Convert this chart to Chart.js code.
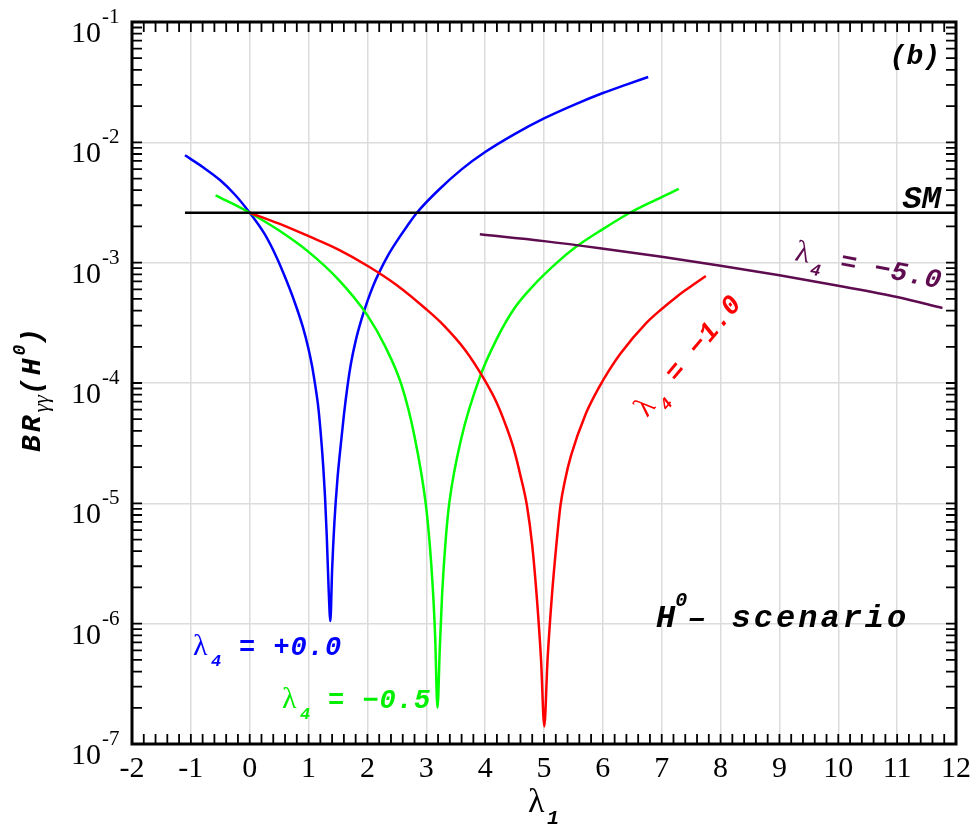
<!DOCTYPE html>
<html>
<head>
<meta charset="utf-8">
<script src="https://cdn.jsdelivr.net/npm/chart.js@4.4.0/dist/chart.umd.min.js"></script>
<style>
html,body{margin:0;padding:0;background:#fff;}
canvas{display:block;}
</style>
</head>
<body>
<canvas id="c" width="975" height="828"></canvas>
<script>
// ---------- data ----------
const xTicks = [-2,-1,0,1,2,3,4,5,6,7,8,9,10,11,12];
const yTickExponents = [-7,-6,-5,-4,-3,-2,-1];

const smX = [-1.1, 12];
const smY = [2.6e-3, 2.6e-3];

// lambda4 = +0.0 (blue)
const blueX = [-1.1,-0.8,-0.5,-0.25,0,0.25,0.46,0.6,0.75,0.9,1.0,1.06,1.12,1.16,1.2,1.25,1.28,1.31,1.34,1.37,
               1.40,1.44,1.49,1.55,1.6,1.66,1.72,1.8,1.9,2.0,2.1,2.2,2.35,2.5,2.67,2.84,3.2,3.6,4.0,4.5,5.0,5.5,6.0,6.4,6.77];
const blueY = [7.8e-3,6.24e-3,4.84e-3,3.67e-3,2.6e-3,1.74e-3,1.1e-3,7.59e-4,4.9e-4,2.95e-4,1.91e-4,1.38e-4,9.1e-5,6.6e-5,4.17e-5,2.0e-5,1.12e-5,5.2e-6,2.0e-6,1.05e-6,
               2.8e-6,7.1e-6,1.58e-5,3.16e-5,5.4e-5,9.3e-5,1.45e-4,2.24e-4,3.39e-4,4.79e-4,6.46e-4,8.3e-4,1.15e-3,1.51e-3,2.0e-3,2.6e-3,3.98e-3,5.96e-3,8.3e-3,1.17e-2,1.58e-2,2.04e-2,2.57e-2,3.02e-2,3.49e-2];

// lambda4 = -0.5 (green)
const greenX = [-0.58,-0.3,0,0.5,1.0,1.5,2.0,2.3,2.58,2.8,2.99,3.06,3.11,3.15,3.19,3.23,3.27,3.33,3.39,3.6,3.91,4.2,4.5,4.8,5.22,5.55,6.0,6.46,6.9,7.29];
const greenY = [3.62e-3,3.11e-3,2.6e-3,1.85e-3,1.23e-3,7.3e-4,3.65e-4,2.02e-4,9.6e-5,3.6e-5,1.0e-5,4.5e-6,2.0e-6,8.0e-7,2.0e-7,6.3e-7,1.8e-6,5.0e-6,1.0e-5,3.55e-5,1.12e-4,2.34e-4,4.2e-4,6.3e-4,1.0e-3,1.36e-3,1.9e-3,2.6e-3,3.33e-3,4.1e-3];

// lambda4 = -1.0 (red)
const redX = [0,0.5,1.0,1.5,2.02,2.5,3.0,3.3,3.66,3.98,4.2,4.35,4.48,4.6,4.71,4.8,4.88,4.95,5.005,5.06,5.13,5.2,5.28,5.36,5.46,5.7,5.93,6.1,6.3,6.74,7.0,7.25,7.4,7.75];
const redY = [2.6e-3,2.11e-3,1.66e-3,1.29e-3,9.3e-4,6.5e-4,4.1e-4,3.0e-4,1.88e-4,1.08e-4,6.8e-5,4.47e-5,2.9e-5,1.7e-5,9.6e-6,4.47e-6,1.6e-6,5.0e-7,1.4e-7,5.0e-7,1.6e-6,4.0e-6,9.6e-6,1.58e-5,2.5e-5,5.4e-5,9.1e-5,1.26e-4,1.76e-4,3.16e-4,4.12e-4,5.19e-4,5.89e-4,7.76e-4];

// lambda4 = -5.0 (purple)
const purpleX = [3.91,5.0,5.95,7.0,8.0,9.0,10.0,11.0,11.77];
const purpleY = [1.72e-3,1.51e-3,1.32e-3,1.12e-3,9.44e-4,7.85e-4,6.43e-4,5.19e-4,4.2e-4];

// ---------- helpers ----------
const pts = (xs, ys) => xs.map((x, i) => ({x: x, y: ys[i]}));
const ds = (xs, ys, color, w) => ({
  data: pts(xs, ys), borderColor: color, borderWidth: w || 2.5,
  pointRadius: 0, cubicInterpolationMode: 'monotone', fill: false, borderJoinStyle: 'round'
});

const MONO = '"Liberation Mono", "Courier New", monospace';
const SERIF = '"Liberation Serif", "Times New Roman", serif';

function rich(ctx, x, y, angle, parts) {
  ctx.save();
  ctx.translate(x, y);
  ctx.rotate(angle * Math.PI / 180);
  ctx.textBaseline = 'alphabetic';
  ctx.textAlign = 'left';
  let cx = 0;
  for (const p of parts) {
    ctx.font = p.font;
    ctx.fillStyle = p.color;
    ctx.letterSpacing = p.ls || '0px';
    if (p.x !== undefined) cx = p.x;
    ctx.fillText(p.t, cx, p.dy || 0);
    cx += ctx.measureText(p.t).width;
  }
  ctx.restore();
}

function lamLabel(ctx, x, y, angle, color, rest) {
  rich(ctx, x, y, angle, [
    {t: 'λ', font: '30px ' + SERIF, color: color},
    {t: '4', font: 'italic bold 17px ' + MONO, color: color, x: 18, dy: 11},
    {t: rest, font: 'italic bold 27px ' + MONO, color: color, x: 46, ls: '1px'}
  ]);
}

const deco = {
  id: 'deco',
  afterDatasetsDraw(chart) {
    const {ctx, chartArea: a, scales: {x, y}} = chart;
    ctx.save();
    // tick marks (inward, all four sides)
    ctx.strokeStyle = '#000';
    ctx.lineWidth = 1.8;
    const L = 10;
    ctx.beginPath();
    for (let i = -20; i <= 120; i += 2) {
      const px = x.getPixelForValue(i / 10);
      ctx.moveTo(px, a.bottom); ctx.lineTo(px, a.bottom - L);
      ctx.moveTo(px, a.top); ctx.lineTo(px, a.top + L);
    }
    for (const e of yTickExponents) {
      for (let m = 1; m <= 9; m++) {
        if (e === -1 && m > 1) break;
        const py = y.getPixelForValue(m * Math.pow(10, e));
        ctx.moveTo(a.left, py); ctx.lineTo(a.left + L, py);
        ctx.moveTo(a.right, py); ctx.lineTo(a.right - L, py);
      }
    }
    ctx.stroke();
    // frame
    ctx.lineWidth = 3;
    ctx.strokeRect(a.left, a.top, a.right - a.left, a.bottom - a.top);

    // tick labels
    ctx.fillStyle = '#000';
    ctx.font = '30px ' + SERIF;
    ctx.textAlign = 'center';
    ctx.textBaseline = 'alphabetic';
    for (const v of xTicks) {
      ctx.fillText(String(v), x.getPixelForValue(v), a.bottom + 33);
    }
    for (const e of yTickExponents) {
      const py = y.getPixelForValue(Math.pow(10, e));
      ctx.font = '30px ' + SERIF;
      ctx.textAlign = 'right';
      ctx.fillText('10', a.left - 31, py + 20);
      ctx.font = '21px ' + SERIF;
      ctx.textAlign = 'left';
      ctx.fillText(String(e), a.left - 30, py + 1);
    }
    ctx.restore();

    // axis titles
    rich(ctx, 528, 812, 0, [
      {t: 'λ', font: '34px ' + SERIF, color: '#000'},
      {t: '1', font: 'italic bold 20px ' + MONO, color: '#000', x: 19, dy: 12}
    ]);
    rich(ctx, 40, 452, -90, [
      {t: 'BR', font: 'italic bold 28px ' + MONO, color: '#000', ls: '3px'},
      {t: 'γγ', font: 'italic 22px ' + SERIF, color: '#000', dy: 8},
      {t: '(H', font: 'italic bold 28px ' + MONO, color: '#000', ls: '3px'},
      {t: '0', font: 'italic bold 18px ' + MONO, color: '#000', dy: -15},
      {t: ')', font: 'italic bold 28px ' + MONO, color: '#000'}
    ]);

    // annotations
    ctx.save();
    ctx.fillStyle = '#000';
    ctx.textAlign = 'right';
    ctx.font = 'italic bold 28px ' + MONO;
    ctx.fillText('(b)', 940, 64);
    ctx.font = 'italic bold 32px ' + MONO;
    ctx.fillText('SM', 941, 208);
    ctx.restore();

    rich(ctx, 656, 627, 0, [
      {t: 'H', font: 'italic bold 32px ' + MONO, color: '#000'},
      {t: '0', font: 'italic bold 20px ' + MONO, color: '#000', dy: -21},
      {t: '– scenario', font: 'italic bold 32px ' + MONO, color: '#000', ls: '3px'}
    ]);

    lamLabel(ctx, 193, 655, 0, '#0000ff', '= +0.0');
    lamLabel(ctx, 282, 708, 0, '#00ee00', '= −0.5');
    lamLabel(ctx, 647, 418, -50, '#ff0000', '= −1.0');
    lamLabel(ctx, 794, 260, 11, '#5e0b4f', '= −5.0');
  }
};

new Chart(document.getElementById('c').getContext('2d'), {
  type: 'line',
  data: {
    datasets: [
      ds(smX, smY, '#000000', 2.5),
      ds(purpleX, purpleY, '#5e0b4f'),
      ds(redX, redY, '#ff0000'),
      ds(greenX, greenY, '#00ff00'),
      ds(blueX, blueY, '#0000ff')
    ]
  },
  options: {
    responsive: false,
    animation: false,
    devicePixelRatio: 1,
    layout: {padding: {left: 132, right: 19, top: 22, bottom: 84}},
    plugins: {legend: {display: false}, tooltip: {enabled: false}},
    scales: {
      x: {
        type: 'linear', min: -2, max: 12,
        ticks: {display: false, stepSize: 1},
        grid: {color: '#dcdcdc', lineWidth: 1.5, drawTicks: false},
        border: {display: false}
      },
      y: {
        type: 'logarithmic', min: 1e-7, max: 1e-1,
        afterBuildTicks: (s) => { s.ticks = yTickExponents.map(e => ({value: Math.pow(10, e)})); },
        ticks: {display: false},
        grid: {color: '#dcdcdc', lineWidth: 1.5, drawTicks: false},
        border: {display: false}
      }
    }
  },
  plugins: [deco]
});
</script>
</body>
</html>
